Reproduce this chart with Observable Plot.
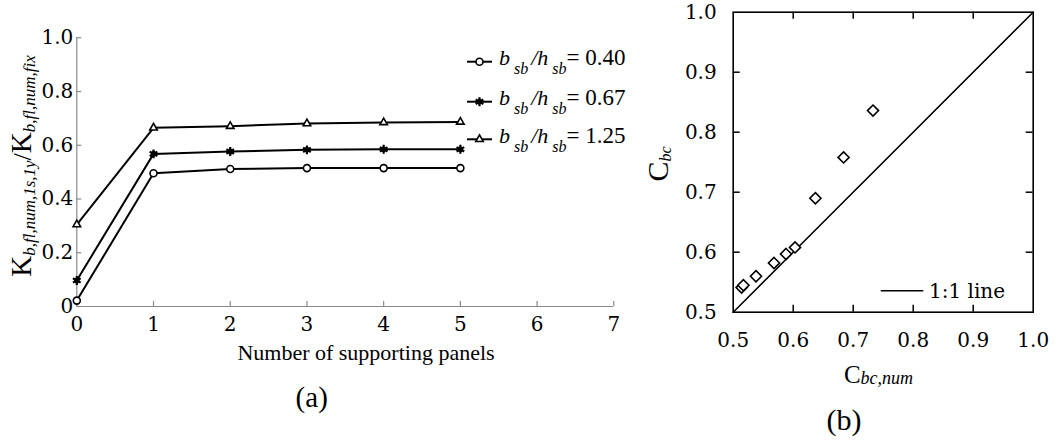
<!DOCTYPE html>
<html><head><meta charset="utf-8">
<script src="https://cdn.jsdelivr.net/npm/d3@7"></script>
<script src="https://cdn.jsdelivr.net/npm/@observablehq/plot@0.6"></script>
<style>
body{margin:0;background:#fff;}
#wrap{position:relative;width:1056px;height:443px;overflow:hidden;background:#fff;}
#wrap svg{position:absolute;top:0;}
</style></head><body><div id="wrap"></div>
<script>
// ---- Panel (a) data ----
const panels = [0, 1, 2, 3, 4, 5];
const ratios = ["0.40", "0.67", "1.25"];
const k040 = [0.022, 0.496, 0.512, 0.515, 0.515, 0.515];
const k067 = [0.097, 0.568, 0.577, 0.583, 0.585, 0.585];
const k125 = [0.305, 0.665, 0.671, 0.681, 0.685, 0.687];
const xTicksA = [0, 1, 2, 3, 4, 5, 6, 7];
const yTicksA = [0, 0.2, 0.4, 0.6, 0.8, 1.0];
const yTickLabelsA = ["0", "0.2", "0.4", "0.6", "0.8", "1.0"];
const xLabelA = "Number of supporting panels";

// ---- Panel (b) data ----
const cbcNum = [0.514, 0.517, 0.538, 0.568, 0.588, 0.603, 0.637, 0.684, 0.733];
const cbc    = [0.541, 0.545, 0.560, 0.582, 0.597, 0.608, 0.690, 0.758, 0.836];
const ticksB = [0.5, 0.6, 0.7, 0.8, 0.9, 1.0];
const tickLabelsB = ["0.5", "0.6", "0.7", "0.8", "0.9", "1.0"];
const innerTicksB = [0.6, 0.7, 0.8, 0.9];
const oneToOne = [0.5, 1.0];
const legendB = "1:1 line";

const SERIF = "Liberation Serif";
const NUMF = "DejaVu Serif";
const axisGrey = "#8a8a8a";

const seriesValues = [k040, k067, k125];
const tableA = ratios.flatMap((r, s) => panels.map((p, i) => ({panels: p, k: seriesValues[s][i], ratio: r})));
const byRatio = r => tableA.filter(d => d.ratio === r);

const wrap = document.getElementById("wrap");

// ---------- Plot (a) ----------
const plotA = Plot.plot({
  width: 640, height: 443,
  marginLeft: 76.3, marginRight: 26.7, marginTop: 37.3, marginBottom: 137,
  x: {domain: [0, 7]},
  y: {domain: [0, 1]},
  style: {fontFamily: NUMF, fontSize: "20px", color: "black", background: "white", overflow: "visible"},
  marks: [
    Plot.ruleY([0], {x1: 0, x2: 7, stroke: axisGrey, strokeWidth: 1.2}),
    Plot.ruleX([0], {y1: 0, y2: 1, stroke: axisGrey, strokeWidth: 1.2}),
    Plot.ruleX(xTicksA, {x: d => d, y1: 0, y2: 0.019, stroke: axisGrey, strokeWidth: 1.2}),
    Plot.ruleY(yTicksA, {y: d => d, x1: 0, x2: 0.065, stroke: axisGrey, strokeWidth: 1.2}),
    Plot.axisX({ticks: xTicksA, tickSize: 0, tickPadding: 10, label: null, tickFormat: d => String(d)}),
    Plot.axisY({ticks: yTicksA, tickSize: 0, tickPadding: 3.5, label: null, tickFormat: d => yTickLabelsA[yTicksA.indexOf(d)]}),
    Plot.line(tableA, {x: "panels", y: "k", z: "ratio", stroke: "black", strokeWidth: 2}),
    Plot.dot(byRatio("0.40"), {x: "panels", y: "k", r: 3.5, fill: "white", stroke: "black", strokeWidth: 1.6}),
    Plot.dot(byRatio("0.67"), {x: "panels", y: "k", symbol: "asterisk", r: 4.2, stroke: "black", strokeWidth: 2.2}),
    Plot.dot(byRatio("0.67"), {x: "panels", y: "k", r: 2.8, fill: "black", stroke: "none"}),
    Plot.dot(byRatio("1.25"), {x: "panels", y: "k", symbol: "triangle", r: 2.8, fill: "white", stroke: "black", strokeWidth: 1.6})
  ]
});
plotA.style.left = "0px";
wrap.appendChild(plotA);

// ---------- Plot (b) ----------
const tableB = cbcNum.map((x, i) => ({num: x, cbc: cbc[i]}));
const tl = 0.0117;
const plotB = Plot.plot({
  width: 416, height: 443,
  marginLeft: 92.7, marginRight: 23.3, marginTop: 11.7, marginBottom: 131.3,
  x: {domain: [0.5, 1]},
  y: {domain: [0.5, 1]},
  style: {fontFamily: NUMF, fontSize: "20px", color: "black", background: "white", overflow: "visible"},
  marks: [
    Plot.line(oneToOne, {x: d => d, y: d => d, stroke: "black", strokeWidth: 1.5}),
    Plot.ruleX(innerTicksB, {x: d => d, y1: 0.5, y2: 0.5 + tl, stroke: "black", strokeWidth: 1.5}),
    Plot.ruleX(innerTicksB, {x: d => d, y1: 1, y2: 1 - tl, stroke: "black", strokeWidth: 1.5}),
    Plot.ruleY(innerTicksB, {y: d => d, x1: 0.5, x2: 0.5 + tl, stroke: "black", strokeWidth: 1.5}),
    Plot.ruleY(innerTicksB, {y: d => d, x1: 1, x2: 1 - tl, stroke: "black", strokeWidth: 1.5}),
    Plot.frame({stroke: "black", strokeWidth: 1.6}),
    Plot.axisX({ticks: ticksB, tickSize: 0, tickPadding: 21, label: null, tickFormat: d => tickLabelsB[ticksB.indexOf(d)]}),
    Plot.axisY({ticks: ticksB, tickSize: 0, tickPadding: 16.5, label: null, tickFormat: d => tickLabelsB[ticksB.indexOf(d)]}),
    Plot.dot(tableB, {x: "num", y: "cbc", symbol: "diamond2", r: 5, fill: "white", stroke: "black", strokeWidth: 1.6})
  ]
});
plotB.style.left = "640px";
wrap.appendChild(plotB);

// ---------- text helpers ----------
function richText(svg, x, y, parts, {anchor = "start", rotate = 0} = {}) {
  const t = d3.select(svg).append("text")
    .attr("transform", `translate(${x},${y}) rotate(${rotate})`)
    .attr("text-anchor", anchor)
    .attr("fill", "black");
  for (const p of parts) {
    const s = t.append("tspan").text(p.t)
      .attr("font-family", p.f || SERIF)
      .attr("font-size", p.s)
      .attr("font-style", p.i ? "italic" : "normal");
    if (p.dy) s.attr("dy", p.dy);
    if (p.dx) s.attr("dx", p.dx);
  }
  return t;
}

// Panel (a) labels
richText(plotA, 31, 166, [
  {t: "K", s: 29},
  {t: "b,fl,num,1s,1y", s: 17, i: true, dy: 4},
  {t: "/", s: 26, dy: -4},
  {t: "K", s: 29},
  {t: "b,fl,num,fix", s: 17, i: true, dy: 4}
], {anchor: "middle", rotate: -90});
richText(plotA, 366, 360, [{t: xLabelA, s: 22}], {anchor: "middle"});
richText(plotA, 311.7, 406.5, [{t: "(a)", s: 29}], {anchor: "middle"});

// Panel (a) legend
const legRows = [61.7, 101.7, 139.3];
const gA = d3.select(plotA).append("g");
ratios.forEach((r, i) => {
  const y = legRows[i];
  gA.append("line").attr("x1", 467).attr("x2", 492).attr("y1", y).attr("y2", y)
    .attr("stroke", "black").attr("stroke-width", 2);
  if (i === 0) {
    gA.append("circle").attr("cx", 479.5).attr("cy", y).attr("r", 3.5)
      .attr("fill", "white").attr("stroke", "black").attr("stroke-width", 1.6);
  } else if (i === 1) {
    gA.append("path").attr("d", d3.symbol(d3.symbolAsterisk, Math.PI * 4.2 * 4.2)())
      .attr("transform", `translate(479.5,${y})`).attr("stroke", "black").attr("stroke-width", 2.2).attr("fill", "none");
    gA.append("circle").attr("cx", 479.5).attr("cy", y).attr("r", 2.8).attr("fill", "black");
  } else {
    gA.append("path").attr("d", d3.symbol(d3.symbolTriangle, Math.PI * 2.8 * 2.8)())
      .attr("transform", `translate(479.5,${y})`).attr("stroke", "black").attr("stroke-width", 1.6).attr("fill", "white");
  }
  richText(plotA, 499, y + 3.5, [
    {t: "b", s: 22, i: true},
    {t: "sb", s: 16, i: true, dy: 9, dx: 4},
    {t: "/h", s: 22, i: true, dy: -9, dx: 3},
    {t: "sb", s: 16, i: true, dy: 9, dx: 4},
    {t: "= " + r, s: 23, dy: -9}
  ]);
});

// Panel (b) labels (coordinates relative to plotB svg)
richText(plotB, 28, 164, [
  {t: "C", s: 30},
  {t: "bc", s: 16, i: true, dy: 3}
], {anchor: "middle", rotate: -90});
richText(plotB, 238.5, 383.3, [
  {t: "C", s: 25},
  {t: "bc,num", s: 18, i: true, dy: 1}
], {anchor: "middle"});
richText(plotB, 204, 430, [{t: "(b)", s: 30}], {anchor: "middle"});
// 1:1 legend
d3.select(plotB).append("line").attr("x1", 240.7).attr("x2", 283.3).attr("y1", 290.7).attr("y2", 290.7)
  .attr("stroke", "black").attr("stroke-width", 1.5);
richText(plotB, 289, 298, [{t: legendB, s: 20, f: NUMF}]);
</script></body></html>
